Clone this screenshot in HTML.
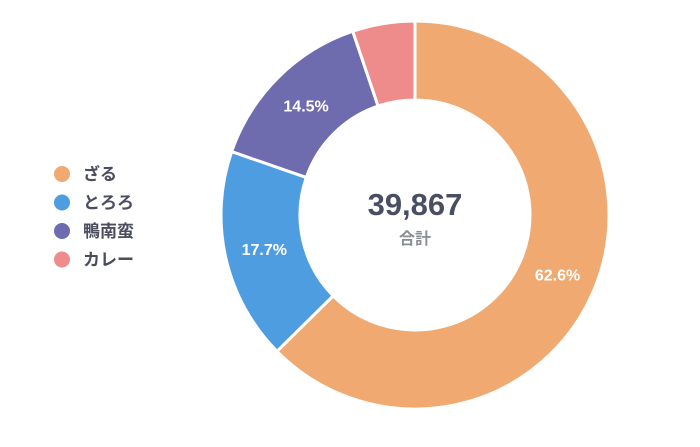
<!DOCTYPE html>
<html><head><meta charset="utf-8"><style>
body{margin:0;background:#fff;width:700px;height:442px;overflow:hidden;font-family:"Liberation Sans","Noto Sans CJK JP",sans-serif}
</style></head><body>
<svg id="chart" width="700" height="442" viewBox="0 0 700 442" xmlns="http://www.w3.org/2000/svg">
<g id="slices"></g>
<g id="labels"></g>
<g id="legend"></g>
<text x="415" y="215" text-anchor="middle" font-size="31" font-weight="bold" fill="#4a4e63" font-family="Liberation Sans, sans-serif">39,867</text>
<text x="415" y="244" text-anchor="middle" font-size="16" font-weight="bold" fill="#8a8d96" font-family="Liberation Sans, Noto Sans CJK JP, sans-serif">合計</text>
</svg>
<script>
const categories = ["ざる","とろろ","鴨南蛮","カレー"];
const values = [62.6,17.7,14.5,5.2];
const labels = ["62.6%","17.7%","14.5%",""];
const colors = ["#f0a970","#4f9de1","#6e6bae","#ee8b8b"];
const NS="http://www.w3.org/2000/svg";
const cx=415, cy=215, R=194, r=115;
const total=values.reduce((a,b)=>a+b,0);
function pt(rad,a){return [cx+rad*Math.sin(a), cy-rad*Math.cos(a)];}
let a0=0;
const gs=document.getElementById('slices'), gl=document.getElementById('labels'), gL=document.getElementById('legend');
values.forEach((v,i)=>{
  const a1=a0+v/total*2*Math.PI;
  const large=(a1-a0)>Math.PI?1:0;
  const [x0,y0]=pt(R,a0),[x1,y1]=pt(R,a1),[x2,y2]=pt(r,a1),[x3,y3]=pt(r,a0);
  const p=document.createElementNS(NS,'path');
  p.setAttribute('d',`M${x0},${y0}A${R},${R} 0 ${large} 1 ${x1},${y1}L${x2},${y2}A${r},${r} 0 ${large} 0 ${x3},${y3}Z`);
  p.setAttribute('fill',colors[i]);p.setAttribute('stroke','#fff');p.setAttribute('stroke-width','3');
  
  
  gs.appendChild(p);
  if(labels[i]){
    const [lx,ly]=pt((R+r)/2,(a0+a1)/2);
    const t=document.createElementNS(NS,'text');
    t.setAttribute('x',lx);t.setAttribute('y',ly+6);t.setAttribute('text-anchor','middle');
    t.setAttribute('font-size','16');t.setAttribute('font-weight','bold');t.setAttribute('fill','#fff');
    t.textContent=labels[i];
    
    
    gl.appendChild(t);
  }
  const c=document.createElementNS(NS,'circle');
  c.setAttribute('cx',62);c.setAttribute('cy',174+i*28.5);c.setAttribute('r',8);c.setAttribute('fill',colors[i]);
  
  
  gL.appendChild(c);
  const lt=document.createElementNS(NS,'text');
  lt.setAttribute('x',83);lt.setAttribute('y',180+i*28.5);lt.setAttribute('font-size','17');lt.setAttribute('font-weight','bold');lt.setAttribute('fill','#4a4d5e');
  lt.textContent=categories[i];
  
  
  gL.appendChild(lt);
  a0=a1;
});
</script>
</body></html>
